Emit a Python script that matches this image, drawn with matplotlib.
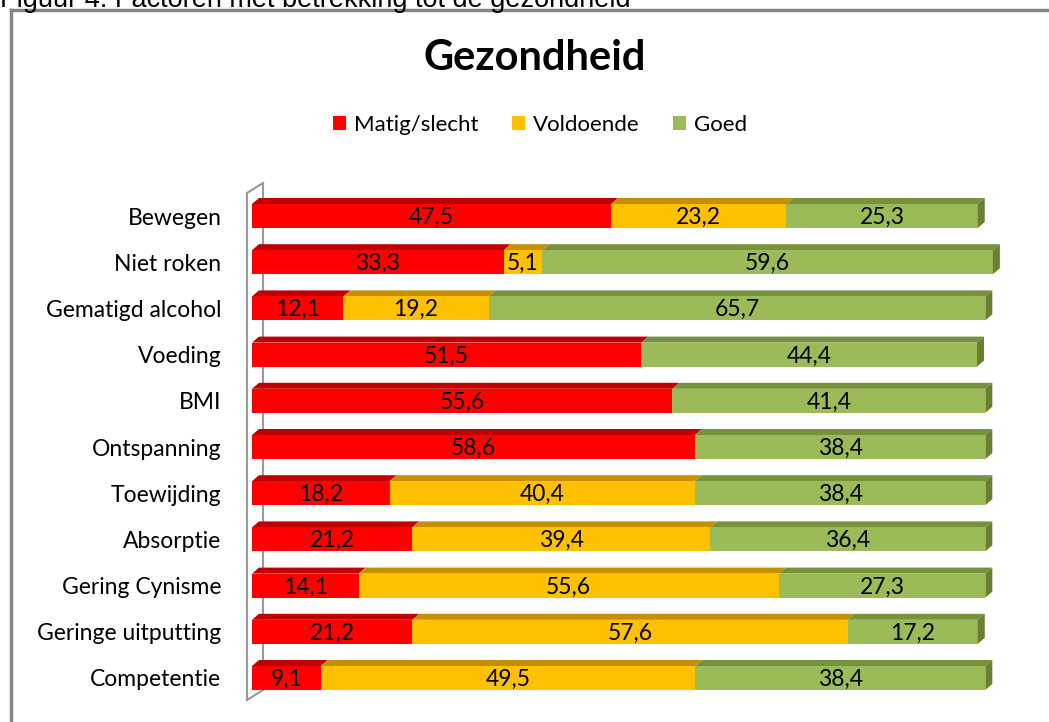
import matplotlib.pyplot as plt
from matplotlib.patches import Polygon, Patch

categories = ['Bewegen', 'Niet roken', 'Gematigd alcohol', 'Voeding', 'BMI',
              'Ontspanning', 'Toewijding', 'Absorptie', 'Gering Cynisme',
              'Geringe uitputting', 'Competentie']
matig = [47.5, 33.3, 12.1, 51.5, 55.6, 58.6, 18.2, 21.2, 14.1, 21.2, 9.1]
voldoende = [23.2, 5.1, 19.2, 0, 0, 0, 40.4, 39.4, 55.6, 57.6, 49.5]
goed = [25.3, 59.6, 65.7, 44.4, 41.4, 38.4, 38.4, 36.4, 27.3, 17.2, 38.4]
series_names = ['Matig/slecht', 'Voldoende', 'Goed']

front = ['#FF0000', '#FFC000', '#9BBB59']
top = ['#C00000', '#C49000', '#77923C']
side = ['#A00000', '#A87C00', '#6A7F35']

W, H = 1049, 722
fig = plt.figure(figsize=(W / 100, H / 100), dpi=100)
font = 'Lato'

# overlay in pixel coordinates for frame and caption
ov = fig.add_axes([0, 0, 1, 1])
ov.set_xlim(0, W)
ov.set_ylim(H, 0)
ov.axis('off')
ov.plot([10.5, W + 5], [9.5, 9.5], color='#868686', lw=2.5)
ov.plot([10.5, 10.5], [9.5, H + 5], color='#868686', lw=2.5)
# caption sits partly above the picture, as in the source
fig.text(0.0, 1 - 7 / H, 'Figuur 4: Factoren met betrekking tot de gezondheid',
         fontsize=19.5, family='Liberation Sans', va='baseline', ha='left')
# 3D wall of the category axis
wall = dict(color='#9a9a9a', lw=1.5)
ov.plot([247, 247], [193, 700], **wall)
ov.plot([247, 263], [193, 183], **wall)
ov.plot([247, 263], [700, 690], **wall)
ov.plot([263, 263], [183, 690], **wall)

fig.text(535 / W, 1 - 58 / H, 'Gezondheid', fontsize=30, fontweight='bold',
         family=font, ha='center', va='center')

handles = [Patch(facecolor=c, edgecolor='none') for c in front]
fig.legend(handles, series_names, loc='center', bbox_to_anchor=(540 / W, 1 - 125 / H),
           ncol=3, frameon=False, handlelength=0.6, handleheight=0.6,
           handletextpad=0.35, columnspacing=1.5,
           prop={'family': font, 'size': 16})

# bar axes: x=0 at 252px, 7.56 px per unit; row pitch 46.2 px
px_x = 7.56
px_y = 46.2
y0 = 216
ax_top, ax_bot = 180, 710
ax = fig.add_axes([252 / W, 1 - ax_bot / H, 100 * px_x / W, (ax_bot - ax_top) / H])
ax.patch.set_alpha(0)
ax.set_xlim(0, 100)
ax.set_ylim((ax_bot - y0) / px_y, (ax_top - y0) / px_y)
for s in ax.spines.values():
    s.set_visible(False)
ax.set_xticks([])

h = 24 / px_y
dx = 7 / px_x
dy = 6 / px_y
rows = range(len(categories))
left = [0.0] * len(categories)
for k, vals in enumerate([matig, voldoende, goed]):
    ax.barh(rows, vals, left=left, height=h, color=front[k], zorder=2)
    for i, v in enumerate(vals):
        if v <= 0:
            continue
        l, r = left[i], left[i] + v
        t = i - h / 2
        ax.add_patch(Polygon([(l, t), (r, t), (r + dx, t - dy), (l + dx, t - dy)],
                             closed=True, facecolor=top[k], edgecolor='none', zorder=1))
        ax.text(l + v / 2, i + 0.03, f'{v:.1f}'.replace('.', ','), ha='center', va='center',
                fontsize=16.5, family=font, zorder=4)
    left = [a + b for a, b in zip(left, vals)]

# side face at the end of each bar
for i in rows:
    r = left[i]
    t, b = i - h / 2, i + h / 2
    ax.add_patch(Polygon([(r, t), (r + dx, t - dy), (r + dx, b - dy), (r, b)],
                         closed=True, facecolor=side[2], edgecolor='none', zorder=3))

ax.set_yticks(list(rows))
ax.set_yticklabels(categories, family=font, fontsize=16.5)
ax.tick_params(axis='y', length=0, pad=22)

fig.savefig('out.png', dpi=100)
